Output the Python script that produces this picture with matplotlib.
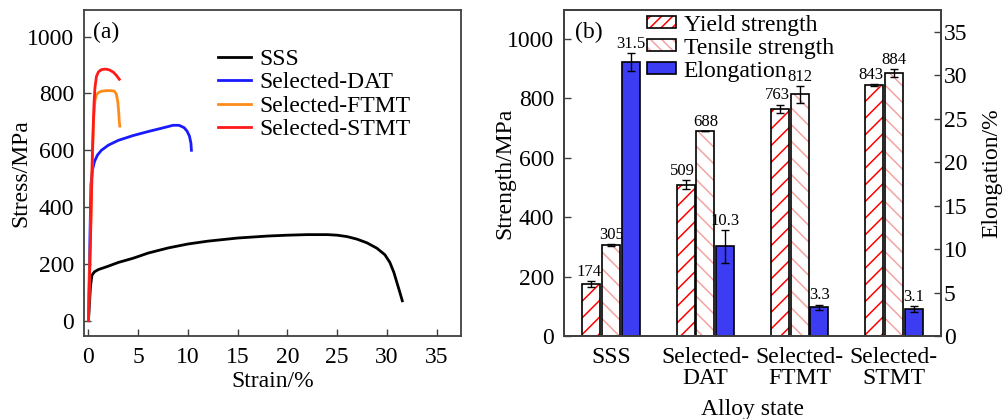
import matplotlib
matplotlib.use('Agg')
from matplotlib import pyplot as plt
from matplotlib import patches
from matplotlib.legend_handler import HandlerTuple

plt.rcParams['font.family'] = ['Liberation Serif', 'DejaVu Serif']
plt.rcParams['font.size'] = 17
plt.rcParams['hatch.linewidth'] = 1.1

# (a) stress-strain curves
sss_strain = [0, 0.1, 0.2, 0.35, 0.6, 1.0, 2, 3, 4.5, 6, 8, 10, 12, 15, 18, 20, 22, 24,
              25, 26, 27, 28, 29, 29.8, 30.3, 30.7, 31.0, 31.3, 31.55]
sss_stress = [0, 60, 120, 160, 172, 180, 192, 205, 220, 238, 256, 270, 280, 291, 298, 301,
              303, 303, 301, 296, 287, 274, 255, 232, 205, 170, 135, 100, 70]
dat_strain = [0, 0.15, 0.25, 0.4, 0.6, 0.9, 1.3, 2, 3, 4.5, 6, 7.5, 8.5, 9.1, 9.6, 9.9,
              10.15, 10.3, 10.35]
dat_stress = [0, 300, 480, 530, 560, 583, 600, 618, 635, 652, 666, 679, 688, 688, 680, 668,
              650, 625, 600]
ftmt_strain = [0, 0.3, 0.5, 0.65, 0.8, 1.0, 1.3, 1.8, 2.3, 2.6, 2.8, 2.95, 3.05, 3.1, 3.15]
ftmt_stress = [0, 450, 700, 775, 795, 803, 808, 810, 810, 808, 798, 770, 730, 700, 685]
stmt_strain = [0, 0.2, 0.4, 0.55, 0.65, 0.8, 1.0, 1.3, 1.7, 2.1, 2.5, 2.8, 3.1]
stmt_stress = [0, 280, 600, 760, 820, 860, 876, 884, 886, 883, 875, 864, 850]

# (b) mechanical properties
states = ['SSS', 'Selected-\nDAT', 'Selected-\nFTMT', 'Selected-\nSTMT']
yield_str = [174, 509, 763, 843]
yield_err = [10, 14, 14, 4]
tensile_str = [305, 688, 812, 884]
tensile_err = [3, 0, 28, 14]
elong = [31.5, 10.3, 3.3, 3.1]
elong_err = [1.0, 1.9, 0.3, 0.3]

blue = '#3c3cf2'
pink = '#f4a3a3'
spine_c = '#404040'

fig = plt.figure(figsize=(10.03, 4.19), dpi=100)
ax1 = fig.add_axes([84 / 1003, 83 / 419, 377 / 1003, 326 / 419])
ax2 = fig.add_axes([564 / 1003, 83 / 419, 377 / 1003, 326 / 419])
ax3 = ax2.twinx()

for ax in (ax1, ax2, ax3):
    for s in ax.spines.values():
        s.set_color(spine_c)
        s.set_linewidth(1.3)

# ---- panel (a)
ax1.plot(sss_strain, sss_stress, color='black', lw=2, label='SSS')
ax1.plot(dat_strain, dat_stress, color='#1a1aff', lw=2, label='Selected-DAT')
ax1.plot(ftmt_strain, ftmt_stress, color='#ff8c1a', lw=2, label='Selected-FTMT')
ax1.plot(stmt_strain, stmt_stress, color='#ff1a1a', lw=2, label='Selected-STMT')
ax1.set_xlim(-0.45, 37.45)
ax1.set_ylim(-54, 1094)
ax1.set_xticks(range(0, 36, 5))
ax1.set_yticks(range(0, 1001, 200))
ax1.tick_params(direction='in', length=5, width=1, color=spine_c)
ax1.tick_params(axis='y', pad=7)
ax1.tick_params(axis='x', pad=8)
ax1.set_xlabel('Strain/%', labelpad=2)
ax1.set_ylabel('Stress/MPa')
ax1.yaxis.set_label_coords(-0.14, 0.5)
ax1.text(0.024, 0.965, '(a)', transform=ax1.transAxes, va='top', ha='left', fontsize=17)
ax1.legend(loc='upper left', bbox_to_anchor=(0.355, 0.882), frameon=False, borderpad=0,
           borderaxespad=0, handlelength=1.4, handletextpad=0.38, labelspacing=0.08)

# ---- panel (b)
x = list(range(len(states)))
w = 0.19
off = 0.21
xy = [i - off for i in x]
xt = list(x)
xe = [i + off for i in x]

ax2.bar(xy, yield_str, w, color='white', edgecolor='red', hatch='//', lw=0)
ax2.bar(xy, yield_str, w, fill=False, edgecolor='black', lw=1.2)
ax2.errorbar(xy, yield_str, yerr=yield_err, fmt='none', ecolor='black', elinewidth=1,
             capsize=3, capthick=1)
ax2.bar(xt, tensile_str, w, color='white', edgecolor=pink, hatch='\\\\', lw=0)
ax2.bar(xt, tensile_str, w, fill=False, edgecolor='black', lw=1.2)
ax2.errorbar(xt, tensile_str, yerr=tensile_err, fmt='none', ecolor='black', elinewidth=1,
             capsize=3, capthick=1)
for xi, v, e in zip(xy, yield_str, yield_err):
    ax2.annotate(str(v), (xi, v + e), xytext=(-2, 1), textcoords='offset points',
                 ha='center', va='bottom', fontsize=12)
for xi, v, e in zip(xt, tensile_str, tensile_err):
    ax2.annotate(str(v), (xi, v + e), xytext=(0, 1), textcoords='offset points',
                 ha='center', va='bottom', fontsize=12)

ax3.bar(xe, elong, w, color=blue, edgecolor='black', lw=1.2)
ax3.errorbar(xe, elong, yerr=elong_err, fmt='none', ecolor='black', elinewidth=1,
             capsize=3, capthick=1)
for xi, v, e in zip(xe, elong, elong_err):
    ax3.annotate(str(v), (xi, v + e), xytext=(0, 1), textcoords='offset points',
                 ha='center', va='bottom', fontsize=12)

ax2.set_xlim(-0.5, 3.5)
ax2.set_ylim(0, 1096)
ax3.set_ylim(0, 37.5)
ax2.set_xticks(x)
ax2.set_xticklabels(states, linespacing=1.0)
ax2.set_yticks(range(0, 1001, 200))
ax3.set_yticks(range(0, 36, 5))
ax2.tick_params(axis='x', length=0, pad=8)
ax2.tick_params(axis='y', direction='in', length=5, width=1, color=spine_c, pad=7)
ax3.tick_params(axis='y', direction='in', length=5, width=1, color=spine_c, pad=2)
ax2.set_xlabel('Alloy state', labelpad=7)
ax2.set_ylabel('Strength/MPa')
ax2.yaxis.set_label_coords(-0.13, 0.5)
ax3.set_ylabel('Elongation/%')
ax3.yaxis.set_label_coords(1.108, 0.5)
ax2.text(0.03, 0.965, '(b)', transform=ax2.transAxes, va='top', ha='left', fontsize=17)

frame = dict(fill=False, edgecolor='black', lw=1.2)
h_yield = (patches.Patch(facecolor='white', edgecolor='red', hatch='///', lw=0),
           patches.Patch(**frame))
h_tens = (patches.Patch(facecolor='white', edgecolor=pink, hatch='\\\\\\', lw=0),
          patches.Patch(**frame))
h_elong = patches.Patch(facecolor=blue, edgecolor='black', lw=1.2)
ax3.legend([h_yield, h_tens, h_elong], ['Yield strength', 'Tensile strength', 'Elongation'],
           handler_map={tuple: HandlerTuple(ndivide=1)},
           loc='upper left', bbox_to_anchor=(0.22, 0.985), frameon=False, borderpad=0,
           borderaxespad=0, handlelength=1.25, handleheight=0.4, handletextpad=0.3,
           labelspacing=0.08)

fig.savefig('out.png', dpi=100)
